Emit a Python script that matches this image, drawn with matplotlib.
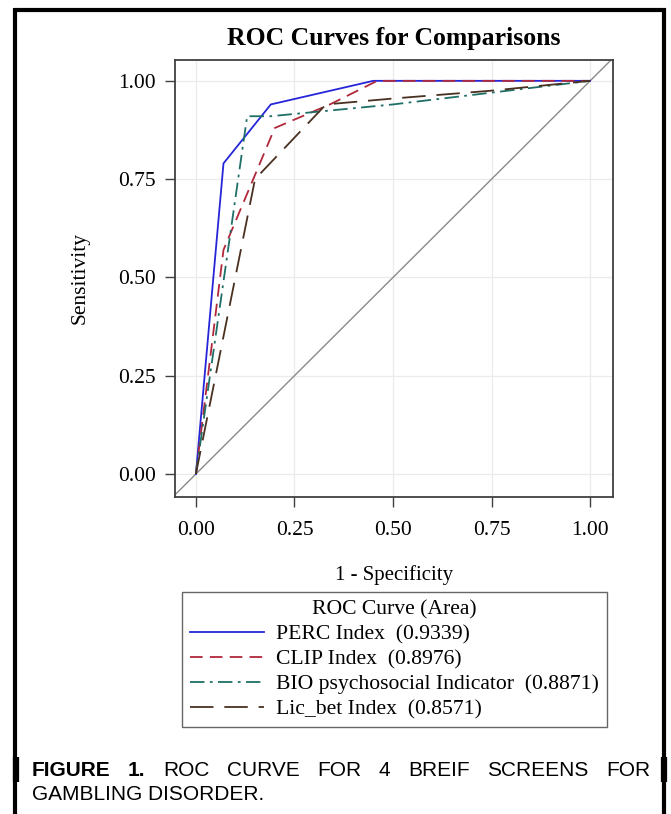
import matplotlib
matplotlib.use("Agg")
import matplotlib.pyplot as plt
from matplotlib.lines import Line2D

# ROC points (1 - specificity, sensitivity)
perc_fpr = [0.0, 0.07, 0.19, 0.45, 1.0]
perc_tpr = [0.0, 0.79, 0.94, 1.00, 1.0]
clip_fpr = [0.0, 0.07, 0.20, 0.34, 0.46, 1.0]
clip_tpr = [0.0, 0.57, 0.88, 0.94, 1.00, 1.0]
bio_fpr = [0.0, 0.13, 0.19, 0.50, 0.75, 1.0]
bio_tpr = [0.0, 0.91, 0.91, 0.94, 0.97, 1.0]
lic_fpr = [0.0, 0.15, 0.33, 0.50, 0.75, 1.0]
lic_tpr = [0.0, 0.75, 0.94, 0.955, 0.975, 1.0]

labels = ["PERC Index  (0.9339)", "CLIP Index  (0.8976)",
          "BIO psychosocial Indicator  (0.8871)", "Lic_bet Index  (0.8571)"]
ticks = [0.0, 0.25, 0.5, 0.75, 1.0]
tick_labels = ["0.00", "0.25", "0.50", "0.75", "1.00"]
caption_line1 = ["FIGURE", "1.", "ROC", "CURVE", "FOR", "4", "BREIF", "SCREENS", "FOR"]
caption_line2 = "GAMBLING DISORDER."

SERIF = "Liberation Serif"
SANS = "Liberation Sans"
W, H = 671, 814

fig = plt.figure(figsize=(W / 100, H / 100), dpi=100)
fig.patch.set_facecolor("white")

ax = fig.add_axes([175 / W, 1 - 497 / H, (613 - 175) / W, (497 - 60) / H])
ax.set_xlim(-0.053, 1.058)
ax.set_ylim(-0.0585, 1.053)

ax.grid(True, color="#ebebeb", linewidth=0.9)
ax.set_axisbelow(True)
ax.axline((0, 0), (1, 1), color="#8a8a8a", linewidth=1.0, zorder=1)

ax.plot(perc_fpr, perc_tpr, color="#2626d8", linewidth=1.3, label=labels[0])
ax.plot(clip_fpr, clip_tpr, color="#b0283a", linewidth=1.3,
        dashes=(7, 4), label=labels[1])
ax.plot(bio_fpr, bio_tpr, color="#1f6f66", linewidth=1.3,
        dashes=(8, 3, 1.5, 3), label=labels[2])
ax.plot(lic_fpr, lic_tpr, color="#4a3020", linewidth=1.3,
        dashes=(13, 6), label=labels[3])

ax.set_xticks(ticks)
ax.set_xticklabels(tick_labels)
ax.set_yticks(ticks)
ax.set_yticklabels(tick_labels)
ax.tick_params(direction="out", length=7, width=1.0, color="#404040",
               labelsize=15.5)
ax.tick_params(axis="x", pad=10)
ax.tick_params(axis="y", pad=7)
for lab in ax.get_xticklabels() + ax.get_yticklabels():
    lab.set_fontfamily(SERIF)
for sp in ax.spines.values():
    sp.set_color("#404040")
    sp.set_linewidth(1.3)

ax.set_xlabel("1 - Specificity", fontsize=15, family=SERIF, labelpad=18)
ax.set_ylabel("Sensitivity", fontsize=15.5, family=SERIF, labelpad=20)
ax.set_title("ROC Curves for Comparisons", fontsize=18.5, family=SERIF,
             fontweight="bold", pad=11)

leg = fig.legend(loc="upper left", bbox_to_anchor=(182 / W, 1 - 592 / H),
                 title="ROC Curve (Area)", frameon=True, fancybox=False,
                 edgecolor="#404040", handlelength=3.4, handletextpad=0.55,
                 labelspacing=0.22, borderpad=0.38, borderaxespad=0,
                 prop={"family": SERIF, "size": 15.6},
                 title_fontproperties={"family": SERIF, "size": 15.6})
leg.get_frame().set_linewidth(1.0)

# outer frame of the figure panel
def fig_line(xs, ys, lw):
    fig.add_artist(Line2D([x / W for x in xs], [1 - y / H for y in ys],
                          color="black", linewidth=lw, transform=fig.transFigure,
                          solid_capstyle="butt"))

fig_line([15, 15], [8, H], 3.0)
fig_line([664, 664], [8, H], 3.0)
fig_line([13.5, 665.5], [10, 10], 3.0)
fig_line([15.5, 15.5], [757, 782], 4.5)
fig_line([664, 664], [757, 782], 4.5)

# justified caption
fig.canvas.draw()
renderer = fig.canvas.get_renderer()
x_left, x_right = 32, 650
y1, y2 = 1 - 770 / H, 1 - 794 / H
words = []
for i, w in enumerate(caption_line1):
    weight = "bold" if i < 2 else "normal"
    t = fig.text(0, y1, w, fontsize=15, family=SANS, fontweight=weight,
                 va="center", ha="left")
    words.append(t)
widths = [t.get_window_extent(renderer).width for t in words]
gap = (x_right - x_left - sum(widths)) / (len(words) - 1)
x = x_left
for t, wd in zip(words, widths):
    t.set_x(x / W)
    x += wd + gap
fig.text(x_left / W, y2, caption_line2, fontsize=15, family=SANS,
         va="center", ha="left")

fig.savefig("out.png", dpi=100)
